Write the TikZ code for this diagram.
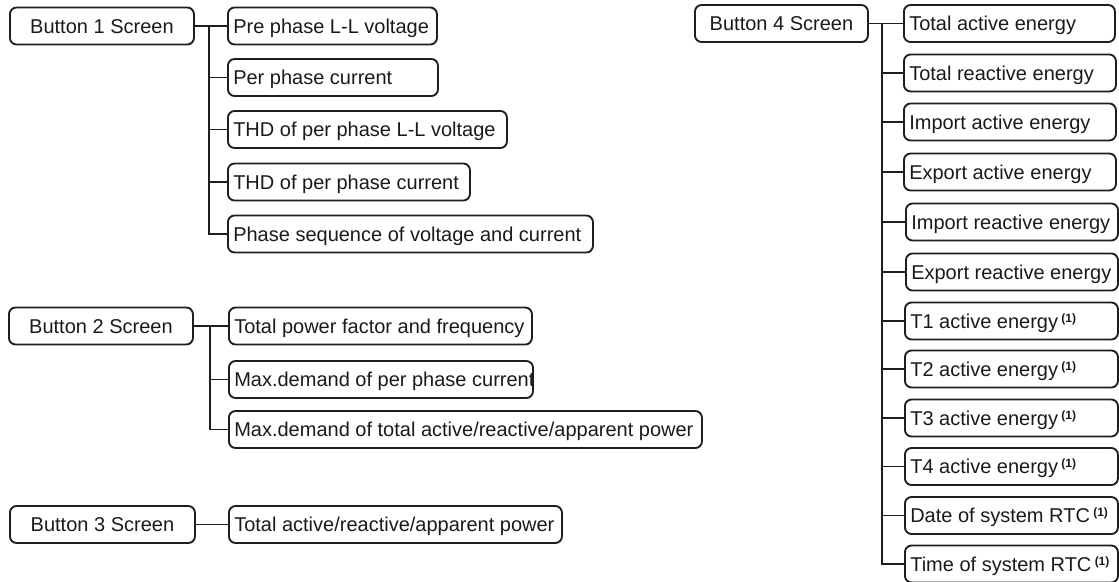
\documentclass[tikz,border=0pt]{standalone}
\usepackage{fontspec}
\setmainfont{Liberation Sans}
\definecolor{ln}{HTML}{1E1E1E}
\definecolor{tx}{HTML}{1A1A1A}
\tikzset{
  box/.style={draw=ln, line width=1.4pt, rounded corners=5pt, minimum height=27.75pt,
    text=tx, font=\fontsize{15}{17}\selectfont, anchor=west, inner ysep=0pt,
    text height=10.7pt, text depth=0pt},
  leaf/.style={box, inner xsep=4pt},
  btn/.style={box, inner xsep=0pt},
  wire/.style={draw=ln, line width=1.4pt}
}
\newcommand\leafnode[5]{%
  \pgfmathsetmacro\lw{(#3-#2)*0.75-8}%
  \node[leaf] (#1) at (#2,#4) {\makebox[\lw pt][l]{#5}};%
}
\newcommand\btnnode[5]{%
  \pgfmathsetmacro\lw{(#3-#2)*0.75}%
  \node[btn, minimum width=\lw pt] (#1) at (#2,#4) {#5};%
}
\newcommand\sone{\,\raisebox{0.55ex}{\fontsize{9}{10}\selectfont\bfseries(1)}}
\begin{document}
\begin{tikzpicture}[x=0.75pt,y=-0.75pt]
\useasboundingbox (0,0) rectangle (1119,581);
% group 1
\btnnode{b1}{9}{193}{26}{Button 1 Screen}
\coordinate (bus1) at (209,0);
\leafnode{a1}{227}{436}{26}{Pre phase L-L voltage}
\leafnode{a2}{227}{437}{77.5}{Per phase current}
\leafnode{a3}{227}{506}{129.5}{THD of per phase L-L voltage}
\leafnode{a4}{227}{469}{182}{THD of per phase current}
\leafnode{a5}{227}{592}{234}{Phase sequence of voltage and current}
\foreach \c in {a1,a2,a3,a4,a5}
  \draw[wire] (b1.east) -- (b1.east -| bus1) |- (\c.west);
% group 2
\btnnode{b2}{8}{192}{326}{Button 2 Screen}
\coordinate (bus2) at (210,0);
\leafnode{d1}{228}{531}{326}{Total power factor and frequency}
\leafnode{d2}{228}{532}{379.5}{Max.demand of per phase current}
\leafnode{d3}{228}{701}{429.5}{Max.demand of total active/reactive/apparent power}
\foreach \c in {d1,d2,d3}
  \draw[wire] (b2.east) -- (b2.east -| bus2) |- (\c.west);
% group 3
\btnnode{b3}{9}{194}{524.5}{Button 3 Screen}
\leafnode{e1}{228}{561}{524.5}{Total active/reactive/apparent power}
\draw[wire] (b3.east) -- (e1.west);
% group 4
\btnnode{b4}{694}{867}{23.5}{Button 4 Screen}
\coordinate (bus4) at (882,0);
\leafnode{f1}{903}{1114}{23.5}{Total active energy}
\leafnode{f2}{903}{1115}{73}{Total reactive energy}
\leafnode{f3}{903}{1115}{122}{Import active energy}
\leafnode{f4}{903}{1115}{172}{Export active energy}
\leafnode{f5}{905}{1117}{222}{Import reactive energy}
\leafnode{f6}{905}{1117}{272}{Export reactive energy}
\leafnode{f7}{904}{1117}{321}{T1 active energy\sone}
\leafnode{f8}{904}{1117}{369}{T2 active energy\sone}
\leafnode{f9}{904}{1117}{418}{T3 active energy\sone}
\leafnode{f10}{904}{1117}{466.5}{T4 active energy\sone}
\leafnode{f11}{904}{1117}{515.5}{Date of system RTC\sone}
\leafnode{f12}{904}{1117}{564}{Time of system RTC\sone}
\foreach \c in {f1,f2,f3,f4,f5,f6,f7,f8,f9,f10,f11,f12}
  \draw[wire] (b4.east) -- (b4.east -| bus4) |- (\c.west);
\end{tikzpicture}
\end{document}
